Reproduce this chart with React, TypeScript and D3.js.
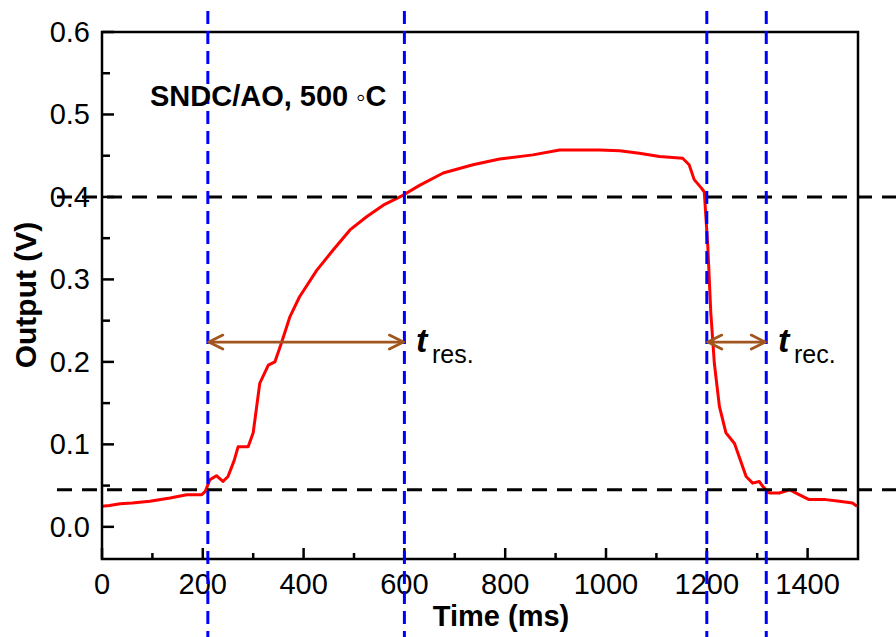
import React from "react";
import * as d3 from "d3";

const timeMs = [0, 15, 36, 60, 95, 135, 168, 198, 205, 214, 227, 240, 250, 262, 270, 290, 300, 313, 330, 343, 356, 373, 392, 426, 459, 492, 525, 558, 597, 630, 677, 736, 789, 855, 908, 987, 1027, 1066, 1106, 1152, 1165, 1175, 1189, 1195, 1202, 1208, 1215, 1225, 1238, 1255, 1278, 1291, 1304, 1311, 1324, 1344, 1364, 1383, 1403, 1436, 1463, 1489, 1498];
const outputV = [0.025, 0.026, 0.028, 0.029, 0.031, 0.035, 0.039, 0.039, 0.043, 0.057, 0.062, 0.055, 0.061, 0.08, 0.097, 0.097, 0.114, 0.174, 0.196, 0.2, 0.223, 0.255, 0.279, 0.311, 0.336, 0.36, 0.376, 0.39, 0.402, 0.414, 0.429, 0.439, 0.446, 0.451, 0.457, 0.457, 0.456, 0.453, 0.449, 0.447, 0.439, 0.421, 0.411, 0.406, 0.34, 0.259, 0.198, 0.146, 0.114, 0.101, 0.061, 0.053, 0.055, 0.049, 0.041, 0.041, 0.045, 0.039, 0.033, 0.033, 0.031, 0.029, 0.025];

const xMajorTicks = [0, 200, 400, 600, 800, 1000, 1200, 1400];
const xMinorTicks = [100, 300, 500, 700, 900, 1100, 1300];
const yMajorTicks = [0, 0.1, 0.2, 0.3, 0.4, 0.5, 0.6];
const yMinorTicks = [0.05, 0.15, 0.25, 0.35, 0.45, 0.55];

const verticalMarkers = [210, 600, 1200, 1318];
const horizontalMarkers = [0.4, 0.045];
const arrowLevel = 0.224;
const responseSpan = [210, 600];
const recoverySpan = [1200, 1318];

export default function App() {
  const W = 896, H = 637;
  const x = d3.scaleLinear().domain([0, 1500]).range([102, 858]);
  const y = d3.scaleLinear().domain([-0.039, 0.6]).range([559, 32]);
  const line = d3.line<number>().x((d, i) => x(timeMs[i])).y((d) => y(d));
  const font = "Arial, 'Liberation Sans', sans-serif";
  const brown = "#a0561e";

  const arrow = (a: number, b: number) => {
    const x0 = x(a), x1 = x(b), yy = y(arrowLevel);
    return (
      <g stroke={brown} strokeWidth={2.8} fill="none" strokeLinecap="round" strokeLinejoin="round">
        <line x1={x0 + 1} y1={yy} x2={x1 - 1} y2={yy} />
        <polyline points={`${x0 + 15},${yy - 7} ${x0 + 1},${yy} ${x0 + 15},${yy + 7}`} />
        <polyline points={`${x1 - 15},${yy - 7} ${x1 - 1},${yy} ${x1 - 15},${yy + 7}`} />
      </g>
    );
  };

  return (
    <svg width={W} height={H} style={{ position: "absolute", left: 0, top: 0 }} fontFamily={font}>
      <rect width={W} height={H} fill="#fff" />
      {/* curve */}
      <path d={line(outputV) || ""} fill="none" stroke="#ff0000" strokeWidth={3} strokeLinejoin="round" />
      {/* frame */}
      <rect x={x(0)} y={y(0.6)} width={x(1500) - x(0)} height={y(-0.039) - y(0.6)} fill="none" stroke="#000" strokeWidth={2.5} />
      {/* y ticks */}
      {yMajorTicks.map((t) => (
        <g key={"ym" + t}>
          <line x1={x(0)} x2={x(0) + 12} y1={y(t)} y2={y(t)} stroke="#000" strokeWidth={2.5} />
          <text x={90} y={y(t) + 10} textAnchor="end" fontSize={29}>{t.toFixed(1)}</text>
        </g>
      ))}
      {yMinorTicks.map((t) => (
        <line key={"yn" + t} x1={x(0)} x2={x(0) + 8} y1={y(t)} y2={y(t)} stroke="#000" strokeWidth={2.5} />
      ))}
      {/* x ticks */}
      {xMajorTicks.map((t) => (
        <g key={"xm" + t}>
          <line x1={x(t)} x2={x(t)} y1={y(-0.039)} y2={y(-0.039) - 11} stroke="#000" strokeWidth={2.5} />
          <text x={x(t)} y={594} textAnchor="middle" fontSize={29}>{t}</text>
        </g>
      ))}
      {xMinorTicks.map((t) => (
        <line key={"xn" + t} x1={x(t)} x2={x(t)} y1={y(-0.039)} y2={y(-0.039) - 6} stroke="#000" strokeWidth={2.5} />
      ))}
      {/* horizontal dashed markers */}
      {horizontalMarkers.map((v) => (
        <line key={"h" + v} x1={57} x2={W} y1={y(v)} y2={y(v)} stroke="#000" strokeWidth={3} strokeDasharray="15 10" />
      ))}
      {/* vertical dashed markers */}
      {verticalMarkers.map((t) => (
        <line key={"v" + t} x1={x(t)} x2={x(t)} y1={11} y2={H} stroke="#0000ff" strokeWidth={3} strokeDasharray="13 7" />
      ))}
      {/* arrows */}
      {arrow(responseSpan[0], responseSpan[1])}
      {arrow(recoverySpan[0], recoverySpan[1])}
      <text x={416} y={352} fontSize={34} fontWeight="bold" fontStyle="italic">t</text>
      <text x={432} y={363} fontSize={25}>res.</text>
      <text x={778} y={352} fontSize={34} fontWeight="bold" fontStyle="italic">t</text>
      <text x={794} y={363} fontSize={25}>rec.</text>
      {/* annotation */}
      <text x={150} y={106} fontSize={29} fontWeight="bold">SNDC/AO, 500 <tspan fontWeight="normal" fontSize={26}>◦</tspan>C</text>
      {/* axis titles */}
      <text x={501} y={626} textAnchor="middle" fontSize={29} fontWeight="bold">Time (ms)</text>
      <text transform={`translate(36,295) rotate(-90)`} textAnchor="middle" fontSize={30} fontWeight="bold">Output (V)</text>
    </svg>
  );
}
